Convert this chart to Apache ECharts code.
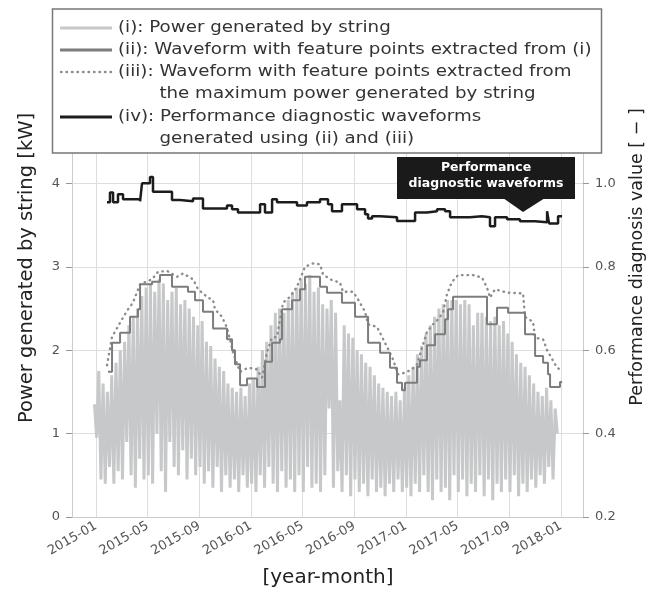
<!DOCTYPE html>
<html><head><meta charset="utf-8">
<script src="https://cdn.jsdelivr.net/npm/echarts@6/dist/echarts.min.js"></script>
<style>html,body{margin:0;padding:0;background:#fff}#c{width:659px;height:599px}</style>
</head><body><div id="c"></div><script>
// x values are months since 2015-01
const xTickMonths = [0, 4, 8, 12, 16, 20, 24, 28, 32, 36];
const leftTicks = [0, 1, 2, 3, 4];
const rightTicks = [0.2, 0.4, 0.6, 0.8, 1.0];

// (i) power generated by string, six samples per month starting late Dec 2014 [kW]
const greyStartMonth = -0.12;
const greySamplesPerMonth = 6;
const greyPower = [
  1.35, 0.95, 1.75, 0.45, 1.60, 0.40,   // 2015-01
  1.50, 0.60, 1.70, 0.40, 1.85, 0.55,
  2.00, 0.45, 2.10, 0.90, 2.30, 0.50,
  2.40, 0.35, 2.50, 0.70, 2.65, 0.45,
  2.75, 0.50, 2.80, 0.40, 2.70, 1.00,
  2.85, 0.55, 2.80, 0.30, 2.60, 0.90,
  2.70, 0.60, 2.75, 0.50, 2.55, 0.80,
  2.60, 0.45, 2.50, 0.70, 2.40, 0.50,
  2.30, 0.60, 2.35, 0.40, 2.10, 0.55,
  2.05, 0.35, 1.90, 0.60, 1.80, 0.30,
  1.75, 0.50, 1.60, 0.35, 1.55, 0.45,
  1.50, 0.30, 1.55, 0.50, 1.45, 0.35,
  1.60, 0.40, 1.65, 0.30, 1.80, 0.50,   // 2016-01
  2.00, 0.35, 2.10, 0.60, 2.30, 0.40,
  2.45, 0.30, 2.50, 0.55, 2.45, 0.35,
  2.60, 0.45, 2.70, 0.30, 2.75, 0.50,
  2.85, 0.30, 2.80, 0.60, 2.90, 0.35,
  2.70, 0.40, 2.75, 0.30, 2.55, 0.50,
  2.50, 1.30, 2.60, 0.35, 2.45, 0.55,
  1.40, 0.30, 2.30, 0.50, 2.20, 0.25,
  2.15, 0.45, 2.00, 0.30, 1.95, 0.40,
  1.85, 0.25, 1.80, 0.45, 1.70, 0.30,
  1.60, 0.35, 1.55, 0.25, 1.50, 0.40,
  1.45, 0.30, 1.50, 0.45, 1.40, 0.30,
  1.55, 0.35, 1.70, 0.25, 1.80, 0.40,   // 2017-01
  1.95, 0.30, 2.05, 0.50, 2.20, 0.30,
  2.30, 0.20, 2.40, 0.45, 2.50, 0.30,
  2.55, 0.35, 2.60, 0.20, 2.60, 0.50,
  2.60, 0.30, 2.55, 0.45, 2.60, 0.25,
  2.55, 0.40, 2.30, 0.30, 2.45, 0.50,
  2.45, 0.25, 2.40, 0.45, 2.35, 0.20,
  2.40, 0.40, 2.30, 0.30, 2.35, 0.45,
  2.20, 0.30, 2.10, 0.50, 1.95, 0.25,
  1.85, 0.40, 1.80, 0.30, 1.70, 0.45,
  1.60, 0.35, 1.50, 0.50, 1.45, 0.40,
  1.55, 0.60, 1.40, 0.45, 1.30, 1.00
];

// (ii) waveform with feature points extracted from (i): [month, kW], value holds until next point
const featureWave = [
  [0.93,1.74],[1.24,2.09],[1.86,2.21],[2.63,2.40],[3.25,2.49],[3.41,2.79],[4.34,2.82],[4.95,2.90],
  [5.88,2.76],[7.12,2.70],[7.66,2.60],[8.28,2.46],[9.06,2.26],[10.14,2.13],[10.53,2.00],[10.76,1.83],
  [11.15,1.58],[11.69,1.66],[12.46,1.56],[13.08,1.86],[13.63,2.09],[14.24,2.13],[14.40,2.49],[15.17,2.60],
  [15.79,2.73],[16.18,2.88],[17.34,2.76],[17.88,2.69],[19.04,2.57],[20.05,2.40],[21.06,2.09],[21.99,1.97],
  [22.76,1.79],[23.30,1.61],[23.69,1.52],[23.92,1.61],[24.85,1.80],[25.08,1.88],[25.62,2.06],[26.25,2.19],
  [27.02,2.37],[27.25,2.49],[27.64,2.64],[30.27,2.31],[31.04,2.51],[31.90,2.45],[33.21,2.19],[33.99,1.93],
  [34.61,1.85],[34.99,1.71],[35.15,1.56],[35.92,1.62],[36.08,1.62]
];

// (iii) waveform with feature points extracted from the maximum power: [month, kW]
const maxPowerWave = [
  [0.85,1.82],[1.24,2.16],[2.01,2.37],[2.48,2.49],[2.86,2.57],[3.41,2.79],[4.34,2.85],[4.80,2.94],
  [5.50,2.95],[6.27,2.88],[6.74,2.92],[7.51,2.85],[7.90,2.73],[8.67,2.63],[9.06,2.60],[9.21,2.49],
  [9.75,2.40],[10.14,2.27],[10.37,2.13],[10.61,1.97],[11.15,1.74],[11.77,1.79],[12.46,1.77],[12.85,1.67],
  [13.24,1.98],[13.63,2.15],[14.01,2.16],[14.48,2.57],[15.02,2.64],[15.56,2.76],[16.18,3.00],[16.80,3.04],
  [17.34,3.03],[17.57,2.91],[18.12,2.85],[18.89,2.81],[19.12,2.70],[19.90,2.70],[20.28,2.61],[20.83,2.46],
  [21.06,2.31],[21.75,2.28],[22.14,2.16],[22.53,2.04],[22.99,1.89],[23.38,1.71],[23.92,1.73],[24.46,1.77],
  [24.85,1.83],[25.24,2.03],[25.62,2.22],[26.09,2.31],[26.48,2.37],[26.86,2.45],[27.17,2.67],[27.56,2.82],
  [28.03,2.90],[29.19,2.90],[29.88,2.87],[30.27,2.75],[30.50,2.63],[30.89,2.73],[31.82,2.69],[33.06,2.68],
  [33.21,2.40],[33.83,2.34],[33.99,2.15],[34.61,2.13],[34.92,2.00],[35.69,1.79],[35.92,1.77]
];

// (iv) performance diagnostic waveform: [month, diagnosis value]
const diagWave = [
  [0.85,0.955],[1.08,0.978],[1.32,0.955],[1.70,0.974],[2.09,0.962],[3.41,0.957],[3.56,1.000],[4.18,1.015],
  [4.41,0.980],[5.88,0.960],[6.50,0.957],[7.51,0.964],[8.28,0.940],[10.14,0.947],[10.53,0.938],[10.99,0.930],
  [12.70,0.950],[13.08,0.930],[13.63,0.962],[14.01,0.955],[15.56,0.947],[16.33,0.955],[17.34,0.962],[17.96,0.950],
  [18.27,0.933],[19.04,0.950],[20.21,0.938],[20.83,0.926],[21.06,0.916],[21.37,0.921],[21.99,0.919],[23.30,0.910],
  [24.70,0.930],[25.62,0.933],[26.40,0.938],[27.02,0.933],[27.41,0.919],[28.95,0.921],[29.88,0.919],[30.50,0.897],
  [30.89,0.919],[31.82,0.914],[32.82,0.909],[33.99,0.907],[34.92,0.933],[35.07,0.904],[35.77,0.921],[36.08,0.921]
];

const legendLabels = [
  '(i): Power generated by string',
  '(ii): Waveform with feature points extracted from (i)',
  '(iii): Waveform with feature points extracted from',
  'the maximum power generated by string',
  '(iv): Performance diagnostic waveforms',
  'generated using (ii) and (iii)'
];

const FONT = '"DejaVu Sans", Verdana, sans-serif';
const greyData = greyPower.map((v, i) => [greyStartMonth + i / greySamplesPerMonth, v]);

function monthLabel(v) {
  const y = 2015 + Math.floor(v / 12);
  const m = Math.round(v - (y - 2015) * 12) + 1;
  return y + '-' + String(m).padStart(2, '0');
}

// legend text metrics (for the hanging indent of continuation lines)
const LEG_FONT = '16px ' + FONT;
const LEG_SX = 1.14;
const mctx = document.createElement('canvas').getContext('2d');
mctx.font = LEG_FONT;
const indent = mctx.measureText('(iii): ').width * LEG_SX;

const C = { grey: '#c7c8ca', feat: '#7d7d7d', dot: '#8c8c8c', diag: '#1c1c1c' };

const chart = echarts.init(document.getElementById('c'), null, { renderer: 'canvas' });
const rowY = [28, 50, 72, 94, 117, 139];
const textX = 118;
chart.setOption({
  animation: false,
  backgroundColor: '#fff',
  grid: { left: 72, right: 76, top: 150, bottom: 82, containLabel: false, outerBoundsMode: 'none' },
  xAxis: {
    type: 'value', min: -1.86, max: 37.7,
    axisLine: { show: true, onZero: false, lineStyle: { color: '#cccccc', width: 1 } },
    axisTick: { show: false, customValues: xTickMonths },
    axisLabel: { customValues: xTickMonths, rotate: 30, margin: 8, formatter: monthLabel,
      fontSize: 13, color: '#555', fontFamily: FONT },
    splitLine: { show: true, lineStyle: { color: '#dedede', width: 1 } }
  },
  yAxis: [{
    type: 'value', min: 0, max: 4.4, position: 'left',
    axisLine: { show: true, onZero: false, lineStyle: { color: '#cccccc', width: 1 } },
    axisTick: { show: true, length: 6, customValues: leftTicks, lineStyle: { color: '#999' } },
    axisLabel: { customValues: leftTicks, margin: 12, fontSize: 13, color: '#555', fontFamily: FONT },
    splitLine: { show: true, lineStyle: { color: '#dedede', width: 1 } }
  }, {
    type: 'value', min: 0.2, max: 1.08, position: 'right',
    axisLine: { show: true, onZero: false, lineStyle: { color: '#cccccc', width: 1 } },
    axisTick: { show: true, length: 6, customValues: rightTicks, lineStyle: { color: '#999' } },
    axisLabel: { customValues: rightTicks, margin: 12, fontSize: 13, color: '#555', fontFamily: FONT,
      formatter: v => v.toFixed(1) },
    splitLine: { show: false }
  }],
  series: [
    { name: legendLabels[0], type: 'line', data: greyData, showSymbol: false, z: 2,
      lineStyle: { color: C.grey, width: 3 } },
    { name: legendLabels[2], type: 'line', data: maxPowerWave, showSymbol: false, z: 3,
      lineStyle: { color: C.dot, width: 2.4, type: [0.5, 5], cap: 'round' } },
    { name: legendLabels[1], type: 'line', step: 'end', data: featureWave, showSymbol: false, z: 4,
      lineStyle: { color: C.feat, width: 2 } },
    { name: legendLabels[4], type: 'line', step: 'end', yAxisIndex: 1, data: diagWave, showSymbol: false, z: 5,
      lineStyle: { color: C.diag, width: 2.5 } }
  ],
  graphic: [
    // axis titles
    { type: 'text', x: 27, y: 268, rotation: Math.PI / 2, z: 50,
      style: { text: 'Power generated by string [kW]', font: '19.5px ' + FONT, fill: '#222', align: 'center', verticalAlign: 'middle' } },
    { type: 'text', x: 637, y: 257, rotation: Math.PI / 2, z: 50,
      style: { text: 'Performance diagnosis value [ − ]', font: '17.5px ' + FONT, fill: '#222', align: 'center', verticalAlign: 'middle' } },
    { type: 'text', x: 328, y: 578, z: 50,
      style: { text: '[year-month]', font: '20px ' + FONT, fill: '#222', align: 'center', verticalAlign: 'middle' } },
    // legend box
    { type: 'rect', z: 100, shape: { x: 52.5, y: 9, width: 549, height: 144 },
      style: { fill: '#fff', stroke: '#777', lineWidth: 1.5 } },
    { type: 'line', z: 101, shape: { x1: 60, y1: rowY[0], x2: 112, y2: rowY[0] }, style: { stroke: C.grey, lineWidth: 3 } },
    { type: 'line', z: 101, shape: { x1: 60, y1: rowY[1], x2: 112, y2: rowY[1] }, style: { stroke: C.feat, lineWidth: 3 } },
    { type: 'line', z: 101, shape: { x1: 61, y1: rowY[2], x2: 112, y2: rowY[2] }, style: { stroke: C.dot, lineWidth: 2.4, lineDash: [0.5, 5], lineCap: 'round' } },
    { type: 'line', z: 101, shape: { x1: 60, y1: rowY[4], x2: 112, y2: rowY[4] }, style: { stroke: C.diag, lineWidth: 3 } },
    ...legendLabels.map((t, i) => ({ type: 'text', z: 101,
      x: (i === 3 || i === 5) ? textX + indent : textX, y: rowY[i], scaleX: LEG_SX,
      style: { text: t, font: LEG_FONT, fill: '#333', align: 'left', verticalAlign: 'middle' } })),
    // callout
    { type: 'rect', z: 90, shape: { x: 397, y: 157, width: 178, height: 42 }, style: { fill: '#1a1a1a' } },
    { type: 'polygon', z: 90, shape: { points: [[503, 198], [545, 198], [523, 212]] }, style: { fill: '#1a1a1a' } },
    { type: 'text', z: 91, x: 486, y: 168, style: { text: 'Performance', font: 'bold 12.5px ' + FONT, fill: '#fff', align: 'center', verticalAlign: 'middle' } },
    { type: 'text', z: 91, x: 486, y: 184, style: { text: 'diagnostic waveforms', font: 'bold 12.5px ' + FONT, fill: '#fff', align: 'center', verticalAlign: 'middle' } }
  ]
});
</script></body></html>
